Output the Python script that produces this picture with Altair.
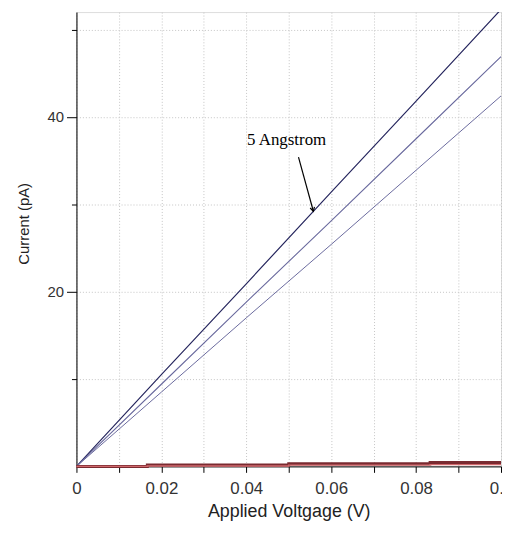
import altair as alt
import pandas as pd

# ---- data ----
voltage = [0, 0.02, 0.04, 0.06, 0.08, 0.1]
current_5a = [0, 10.5, 20.9, 31.4, 41.8, 52.3]
current_b = [0, 9.4, 18.8, 28.1, 37.5, 46.9]
current_c = [0, 8.5, 17.0, 25.4, 33.9, 42.4]

red_voltage = [0, 0.0167, 0.05, 0.0833, 0.1]
red_low = [0, 0.05, 0.15, 0.2, 0.2]
red_high = [0, 0.15, 0.3, 0.45, 0.45]

label_text = ["5 Angstrom"]
label_v = [0.0495]
label_i = [36.8]
arrow_v = [0.0523, 0.0558]
arrow_i = [35.4, 29.2]

x_ticks = [0, 0.01, 0.02, 0.03, 0.04, 0.05, 0.06, 0.07, 0.08, 0.09, 0.1]
y_ticks = [10, 20, 30, 40, 50]

# ---- tables ----
blue_rows = []
for name, vals in [("5A", current_5a), ("B", current_b), ("C", current_c)]:
    for v, i in zip(voltage, vals):
        blue_rows.append({"V": v, "I": i, "s": name})
blue_df = pd.DataFrame(blue_rows)

red_dark_df = pd.DataFrame({"V": red_voltage, "I": red_high})
red_light_df = pd.DataFrame({"V": red_voltage, "I": red_low})

label_df = pd.DataFrame({"V": label_v, "I": label_i, "t": label_text})
arrow_df = pd.DataFrame({"V": arrow_v, "I": arrow_i})
tip_df = arrow_df.iloc[[-1]]

xscale = alt.Scale(domain=[0, 0.1], nice=False, zero=False)
yscale = alt.Scale(domain=[0, 52], nice=False, zero=False)

xaxis = alt.Axis(
    title="Applied Voltgage (V)",
    values=x_ticks,
    labelExpr="(round(datum.value*100) % 2 == 0) ? format(datum.value, '~g') : ''",
    grid=True, gridColor="#c4c4c4", gridDash=[1, 2], gridWidth=1,
    domainColor="black", tickColor="black", tickSize=6,
    labelFont="Liberation Sans", labelFontSize=17, labelColor="#333333",
    labelPadding=8, labelFlush=False, labelOverlap=False,
    titleFont="Liberation Sans", titleFontSize=18, titleFontWeight="normal",
    titleColor="#222222", titlePadding=7,
)
yaxis = alt.Axis(
    title="Current (pA)",
    values=y_ticks,
    labelExpr="(datum.value % 20 == 0) ? datum.label : ''",
    grid=True, gridColor="#c4c4c4", gridDash=[1, 2], gridWidth=1,
    domainColor="black", tickColor="black",
    tickSize={"condition": {"test": "datum.value % 20 == 0", "value": 10}, "value": 5},
    labelFont="Liberation Sans", labelFontSize=15, labelColor="#333333",
    labelPadding=3,
    titleFont="Liberation Sans", titleFontSize=15, titleFontWeight="normal",
    titleColor="#222222", titlePadding=16, titleY=213,
)

X = alt.X("V:Q", scale=xscale, axis=xaxis)
Y = alt.Y("I:Q", scale=yscale, axis=yaxis)

blue = alt.Chart(blue_df).mark_line(clip=True).encode(
    x=X, y=Y,
    color=alt.Color("s:N", scale=alt.Scale(domain=["5A", "B", "C"],
                                           range=["#26265e", "#6a6a9e", "#6a6a9e"]),
                    legend=None),
    strokeWidth=alt.StrokeWidth("s:N", scale=alt.Scale(domain=["5A", "B", "C"],
                                                       range=[1.2, 1, 1]), legend=None),
    detail="s:N",
)

red_dark = alt.Chart(red_dark_df).mark_line(interpolate="step-after", color="#7a2a30",
                                            strokeWidth=3).encode(x=X, y=Y)
red_light = alt.Chart(red_light_df).mark_line(
    interpolate="step-after", color="#d0686c", strokeWidth=1.4).encode(x=X, y=Y)

arrow = alt.Chart(arrow_df).mark_line(color="black", strokeWidth=1.2).encode(x=X, y=Y)
tip = alt.Chart(tip_df).mark_point(
    shape="M-0.5,0.9L0,0L0.5,0.9", filled=False, color="black", strokeWidth=1.2,
    size=80, angle=165, opacity=1).encode(x=X, y=Y)
label = alt.Chart(label_df).mark_text(
    font="Liberation Serif", fontSize=17, align="center", baseline="alphabetic",
    color="black").encode(x=X, y=Y, text="t:N")

chart = alt.layer(blue, red_dark, red_light, arrow, tip, label).properties(
    width=428, height=458,
    padding={"left": 69, "top": 2, "right": 1, "bottom": 60},
    autosize=alt.AutoSizeParams(type="none"),
).configure_view(stroke="black", strokeWidth=1).configure(background="white")

chart.save("out.html", embed_options={"renderer": "svg", "actions": False})
